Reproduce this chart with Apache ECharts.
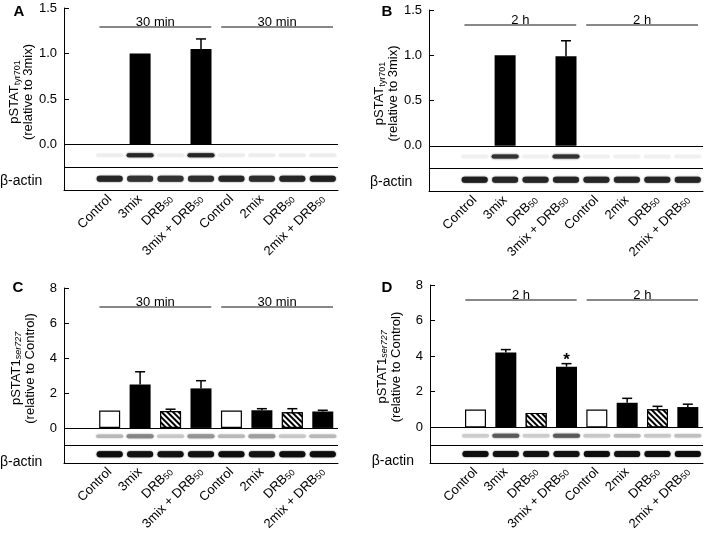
<!DOCTYPE html>
<html><head><meta charset="utf-8">
<script src="https://cdn.jsdelivr.net/npm/echarts@6/dist/echarts.min.js"></script>
<style>html,body{margin:0;padding:0;background:#fff}#c{width:709px;height:533px}</style>
</head><body><div id="c"></div>
<script>
// ---- data ----
const categories = ['Control', '3mix', 'DRB50', '3mix + DRB50', 'Control', '2mix', 'DRB50', '2mix + DRB50'];
const barTypes = ['open', 'solid', 'hatch', 'solid', 'open', 'solid', 'hatch', 'solid'];
const groupSpans = [[0, 3], [4, 7]];

const valuesA = [0, 1.00, 0, 1.05, 0, 0, 0, 0];
const errA    = [0, 0, 0, 0.11, 0, 0, 0, 0];
const valuesB = [0, 1.00, 0, 0.99, 0, 0, 0, 0];
const errB    = [0, 0, 0, 0.17, 0, 0, 0, 0];
const valuesC = [1.00, 2.48, 0.97, 2.26, 1.00, 1.01, 0.90, 0.94];
const errC    = [0, 0.73, 0.10, 0.44, 0, 0.09, 0.20, 0.07];
const valuesD = [1.00, 4.20, 0.81, 3.41, 1.00, 1.38, 1.01, 1.14];
const errD    = [0, 0.17, 0, 0.17, 0, 0.25, 0.17, 0.16];
const starD   = [0, 0, 0, 1, 0, 0, 0, 0];

const groupLabelsA = ['30 min', '30 min'];
const groupLabelsB = ['2 h', '2 h'];
const groupLabelsC = ['30 min', '30 min'];
const groupLabelsD = ['2 h', '2 h'];

// band intensities (0 = white, 1 = black)
const blotA  = [0.07, 0.85, 0.07, 0.85, 0.07, 0.07, 0.07, 0.07];
const actinA = [0.85, 0.80, 0.80, 0.82, 0.85, 0.82, 0.85, 0.88];
const blotB  = [0.06, 0.80, 0.06, 0.80, 0.06, 0.06, 0.06, 0.06];
const actinB = [0.88, 0.85, 0.85, 0.85, 0.85, 0.85, 0.85, 0.85];
const blotC  = [0.28, 0.48, 0.22, 0.42, 0.28, 0.38, 0.22, 0.28];
const actinC = [0.95, 0.93, 0.93, 0.93, 0.95, 0.93, 0.95, 0.95];
const blotD  = [0.20, 0.65, 0.20, 0.65, 0.22, 0.28, 0.22, 0.25];
const actinD = [0.95, 0.93, 0.93, 0.93, 0.95, 0.93, 0.95, 0.95];

const FONT = 'Liberation Sans, Arial, sans-serif';

const panels = [
  {letter: 'A', values: valuesA, errs: errA, stars: null, blot: blotA, actin: actinA, groups: groupLabelsA,
   min: -0.5, max: 1.5, interval: 0.5, sep: -0.25, dec: 1, nameMain: 'pSTAT', nameSub: 'tyr701', subItalic: false,
   nameRef: '(relative to 3mix)', grid: {left: 64, top: 8, width: 274, height: 182}, gOff: 19,
   letterPos: [19, 11.5], actinPos: [0, 181]},
  {letter: 'B', values: valuesB, errs: errB, stars: null, blot: blotB, actin: actinB, groups: groupLabelsB,
   min: -0.5, max: 1.5, interval: 0.5, sep: -0.25, dec: 1, nameMain: 'pSTAT', nameSub: 'tyr701', subItalic: false,
   nameRef: '(relative to 3mix)', grid: {left: 429, top: 10, width: 274, height: 181}, gOff: 15,
   letterPos: [387, 11.7], actinPos: [370, 181.7]},
  {letter: 'C', values: valuesC, errs: errC, stars: null, blot: blotC, actin: actinC, groups: groupLabelsC,
   min: -2, max: 8, interval: 2, sep: -1, dec: 0, nameMain: 'pSTAT1', nameSub: 'ser727', subItalic: true,
   nameRef: '(relative to Control)', grid: {left: 64, top: 288, width: 274, height: 182}, gOff: 19,
   letterPos: [18, 288], actinPos: [0, 462]},
  {letter: 'D', values: valuesD, errs: errD, stars: starD, blot: blotD, actin: actinD, groups: groupLabelsD,
   min: -2, max: 8, interval: 2, sep: -1, dec: 0, nameMain: 'pSTAT1', nameSub: 'ser727', subItalic: true,
   nameRef: '(relative to Control)', grid: {left: 430, top: 285, width: 273, height: 182}, gOff: 15,
   letterPos: [387, 288], actinPos: [371.7, 460.7]}
];

const axisCats = [''].concat(categories);

function barStyle(t, v) {
  if (!v) return {color: 'rgba(0,0,0,0)', borderWidth: 0};
  if (t === 'solid') return {color: '#000'};
  if (t === 'open') return {color: '#fff', borderColor: '#000', borderWidth: 1.2};
  return {color: '#fff', borderColor: '#000', borderWidth: 1.2,
    decal: {symbol: 'rect', symbolSize: 1, dashArrayX: [1, 0], dashArrayY: [1.3, 2], rotation: Math.PI / 4,
            color: '#000', backgroundColor: '#fff'}};
}

const grids = [], xAxes = [], yAxes = [], series = [], graphics = [];

panels.forEach((p, k) => {
  grids.push(Object.assign({containLabel: false}, p.grid));
  xAxes.push({
    type: 'category', gridIndex: k, data: axisCats, boundaryGap: true,
    axisLine: {show: true, onZero: false, lineStyle: {color: '#000', width: 1}},
    axisTick: {show: false}, splitLine: {show: false},
    axisLabel: {
      interval: 0, rotate: 45, margin: 7, fontSize: 13, color: '#000', fontFamily: FONT,
      formatter: v => v.replace(/50$/, '{s|50}'),
      rich: {s: {fontSize: 9, fontFamily: FONT, color: '#000', verticalAlign: 'bottom'}}
    }
  });
  yAxes.push({
    type: 'value', gridIndex: k, min: p.min, max: p.max, interval: p.interval,
    axisLine: {show: true, lineStyle: {color: '#000', width: 1}},
    axisTick: {show: true, inside: true, length: 5, lineStyle: {color: '#000'}},
    splitLine: {show: false},
    axisLabel: {fontSize: 13, color: '#000', fontFamily: FONT, margin: 7,
      formatter: v => v < 0 ? '' : v.toFixed(p.dec)},
    name: '{a|' + p.nameMain + '}{' + (p.subItalic ? 'si' : 's') + '|' + p.nameSub + '}\n{a|' + p.nameRef + '}',
    nameLocation: 'middle', nameRotate: 90, nameGap: 27,
    nameTextStyle: {
      color: '#000', fontFamily: FONT, fontSize: 13, padding: [0, 0, 0, 14],
      rich: {
        a: {fontSize: 13, lineHeight: 14, fontFamily: FONT, color: '#000'},
        s: {fontSize: 9, lineHeight: 14, fontFamily: FONT, color: '#000', verticalAlign: 'bottom'},
        si: {fontSize: 9, lineHeight: 14, fontFamily: FONT, color: '#000', fontStyle: 'italic', verticalAlign: 'bottom'}
      }
    }
  });

  // bars
  series.push({
    type: 'bar', xAxisIndex: k, yAxisIndex: k, barWidth: 21, z: 3,
    data: p.values.map((v, i) => ({value: [i + 1, v], itemStyle: barStyle(barTypes[i], v)})),
    markLine: {silent: true, symbol: 'none', label: {show: false},
      lineStyle: {color: '#000', width: 1, type: 'solid'},
      emphasis: {disabled: true},
      data: [{yAxis: 0}, {yAxis: p.sep}]}
  });

  // error bars (+ significance star)
  series.push({
    type: 'custom', xAxisIndex: k, yAxisIndex: k, z: 4, silent: true,
    data: p.values.map((v, i) => [i + 1, v, p.errs[i], p.stars ? p.stars[i] : 0]),
    renderItem: (params, api) => {
      const x = api.value(0), m = api.value(1), e = api.value(2), st = api.value(3);
      const children = [];
      const top = api.coord([x, m + e]);
      if (e > 0) {
        const base = api.coord([x, m]);
        children.push({type: 'line', shape: {x1: base[0], y1: base[1], x2: top[0], y2: top[1]},
          style: {stroke: '#000', lineWidth: 1.5}});
        children.push({type: 'line', shape: {x1: top[0] - 5, y1: top[1], x2: top[0] + 5, y2: top[1]},
          style: {stroke: '#000', lineWidth: 1.5}});
      }
      if (st) {
        children.push({type: 'text', x: top[0], y: top[1] - 3,
          style: {text: '*', font: 'bold 17px ' + FONT, fill: '#000', align: 'center', verticalAlign: 'middle'}});
      }
      return {type: 'group', children};
    }
  });

  // blot strips
  series.push({
    type: 'custom', xAxisIndex: k, yAxisIndex: k, z: 2, silent: true,
    data: p.blot.map((b, i) => [i + 1, b, p.actin[i]]),
    renderItem: (params, api) => {
      const x = api.value(0), b = api.value(1), a = api.value(2);
      const cx = api.coord([x, 0])[0];
      const yP = api.coord([x, p.sep * 0.47])[1];
      const yA = api.coord([x, (p.sep + p.min) / 2])[1];
      const g1 = Math.round(255 * (1 - b)), g2 = Math.round(255 * (1 - a));
      const c1 = 'rgb(' + g1 + ',' + g1 + ',' + g1 + ')', c2 = 'rgb(' + g2 + ',' + g2 + ',' + g2 + ')';
      const hP = b > 0.3 ? 4 : 3.5;
      return {type: 'group', children: [
        {type: 'rect', shape: {x: cx - 13.5, y: yP - hP / 2, width: 27, height: hP, r: 2},
          style: {fill: c1, shadowBlur: 2, shadowColor: c1}},
        {type: 'rect', shape: {x: cx - 13, y: yA - 3, width: 26, height: 6, r: 3},
          style: {fill: c2, shadowBlur: 1.5, shadowColor: c2}}
      ]};
    }
  });

  // time group lines
  series.push({
    type: 'custom', xAxisIndex: k, yAxisIndex: k, z: 2, silent: true,
    data: groupSpans.map((s, j) => [s[0] + 1, s[1] + 1, j]),
    renderItem: (params, api) => {
      const s = api.value(0), e = api.value(1), j = api.value(2);
      const band = api.size([1, 0])[0];
      const xs = api.coord([s, 0])[0] - band / 2 + 5;
      const xe = api.coord([e, 0])[0] + band / 2 - 5;
      const y = params.coordSys.y + p.gOff;
      return {type: 'group', children: [
        {type: 'line', shape: {x1: xs, y1: y, x2: xe, y2: y}, style: {stroke: '#111', lineWidth: 1}},
        {type: 'text', x: (xs + xe) / 2, y: y + 2,
          style: {text: p.groups[j], font: '13px ' + FONT, fill: '#000', align: 'center', verticalAlign: 'bottom'}}
      ]};
    }
  });

  graphics.push({type: 'text', x: p.letterPos[0], y: p.letterPos[1],
    style: {text: p.letter, font: 'bold 15px ' + FONT, fill: '#000', align: 'center', verticalAlign: 'middle'}});
  graphics.push({type: 'text', x: p.actinPos[0], y: p.actinPos[1],
    style: {text: 'β-actin', font: '14px ' + FONT, fill: '#000', align: 'left', verticalAlign: 'middle'}});
});

const chart = echarts.init(document.getElementById('c'), null, {renderer: 'canvas'});
chart.setOption({
  animation: false,
  backgroundColor: '#fff',
  textStyle: {fontFamily: FONT},
  grid: grids, xAxis: xAxes, yAxis: yAxes, series: series, graphic: graphics
});
</script></body></html>
